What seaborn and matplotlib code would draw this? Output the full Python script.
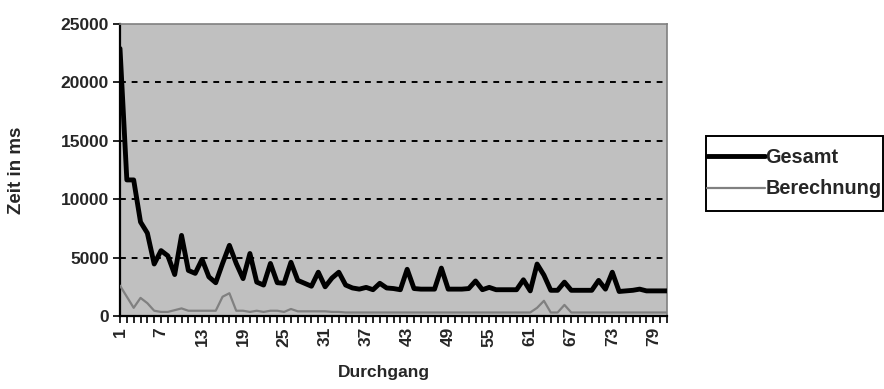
import matplotlib
matplotlib.use("Agg")
import matplotlib.pyplot as plt
from matplotlib.patches import Rectangle
import seaborn as sns
import pandas as pd

# Measured run times per pass (ms)
durchgang = list(range(1, 82))
gesamt = [
    22900, 11650, 11650, 8050, 7100, 4450, 5600, 5150, 3550, 6900,
    3900, 3650, 4850, 3350, 2850, 4500, 6050, 4500, 3200, 5350,
    2900, 2650, 4500, 2850, 2800, 4600, 3050, 2800, 2550, 3750,
    2500, 3250, 3750, 2650, 2400, 2300, 2450, 2250, 2800, 2400,
    2350, 2250, 4000, 2350, 2300, 2300, 2300, 4100, 2300, 2300,
    2300, 2350, 3000, 2250, 2450, 2250, 2250, 2250, 2250, 3100,
    2150, 4450, 3500, 2200, 2200, 2900, 2200, 2200, 2200, 2200,
    3050, 2300, 3750, 2100, 2150, 2200, 2300, 2150, 2150, 2150,
    2150,
]
berechnung = [
    2600, 1650, 700, 1550, 1100, 450, 350, 350, 500, 650,
    450, 450, 450, 450, 450, 1650, 1950, 450, 450, 350,
    450, 350, 450, 450, 350, 600, 400, 400, 400, 400,
    400, 350, 350, 300, 300, 300, 300, 300, 300, 300,
    300, 300, 300, 300, 300, 300, 300, 300, 300, 300,
    300, 300, 300, 300, 300, 300, 300, 300, 300, 300,
    300, 700, 1300, 300, 300, 950, 300, 300, 300, 300,
    300, 300, 300, 300, 300, 300, 300, 300, 300, 300,
    300,
]
y_ticks = [0, 5000, 10000, 15000, 20000, 25000]
x_labels = list(range(1, 82, 6))

df = pd.DataFrame({"Durchgang": durchgang, "Gesamt": gesamt, "Berechnung": berechnung})

sns.set_theme(style="white")
plt.rcParams["font.family"] = ["Liberation Sans", "DejaVu Sans"]
plt.rcParams["font.weight"] = "bold"

FS = 12.5

fig = plt.figure(figsize=(8.84, 3.89), dpi=100)
ax = fig.add_axes([120 / 884, 1 - 316 / 389, (667 - 120) / 884, (316 - 24) / 389])
ax.set_facecolor("#C0C0C0")

sns.lineplot(data=df, x="Durchgang", y="Gesamt", ax=ax, color="black",
             linewidth=3.5, label="Gesamt", zorder=4)
sns.lineplot(data=df, x="Durchgang", y="Berechnung", ax=ax, color="#808080",
             linewidth=1.6, label="Berechnung", zorder=3)

ax.set_xlim(1, 81)
ax.set_ylim(0, 25000)
ax.set_yticks(y_ticks)
ax.set_yticklabels([str(v) for v in y_ticks], fontsize=FS, fontweight="bold")
ax.set_xticks(durchgang, minor=True)
ax.set_xticks(x_labels)
ax.set_xticklabels([str(v) for v in x_labels], rotation=90, fontsize=FS, fontweight="bold")

for v in y_ticks[1:-1]:
    ax.axhline(v, color="black", linestyle=(0, (3, 3)), linewidth=1.4, zorder=2)

ax.tick_params(axis="y", which="major", direction="out", length=5, width=1.2,
               color="black", left=True, pad=3)
ax.tick_params(axis="x", which="both", direction="out", length=5, width=1.2,
               color="black", bottom=True, pad=3)

for side in ("left", "bottom"):
    ax.spines[side].set_color("black")
    ax.spines[side].set_linewidth(1.6)
for side in ("top", "right"):
    ax.spines[side].set_color("#808080")
    ax.spines[side].set_linewidth(1.2)

ax.set_xlabel("Durchgang", fontsize=FS, fontweight="bold")
ax.set_ylabel("Zeit in ms", fontsize=13.5, fontweight="bold")
ax.xaxis.set_label_coords((384 - 120) / (667 - 120), -(373 - 316) / (316 - 24))
ax.yaxis.set_label_coords(-(120 - 17) / (667 - 120), 0.5)
ax.xaxis.label.set_va("center")
ax.yaxis.label.set_va("center")

# Legend outside the plot, with its own black frame
ax.get_legend().remove()
fig.patches.append(Rectangle((706 / 884, 1 - 211 / 389), (883 - 706) / 884, 75 / 389,
                             transform=fig.transFigure, fill=False,
                             edgecolor="black", linewidth=1.4))
handles, labels = ax.get_legend_handles_labels()
fig.legend(handles, labels, loc="center left",
           bbox_to_anchor=(707 / 884, 1 - 173 / 389),
           frameon=False, handlelength=2.9, handletextpad=0.05,
           borderpad=0, labelspacing=0.65, borderaxespad=0,
           prop={"weight": "bold", "size": 14.3})

fig.savefig("out.png", dpi=100)
